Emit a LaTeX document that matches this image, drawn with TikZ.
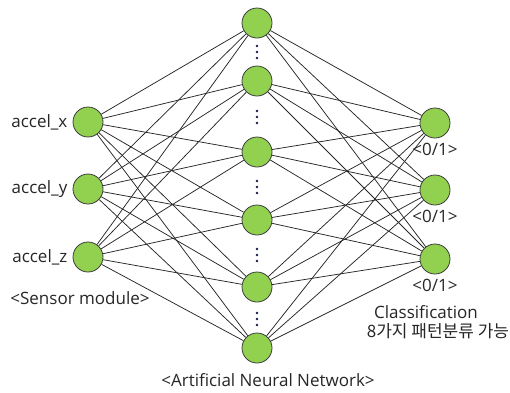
\documentclass[tikz,border=0pt]{standalone}
\usepackage{fontspec}
\setmainfont{Open Sans}
\newfontfamily\korfont{Noto Sans CJK KR}
\usetikzlibrary{positioning}
\definecolor{nodegreen}{RGB}{146,208,80}
\definecolor{rimgray}{RGB}{60,60,60}
\definecolor{dotblue}{RGB}{20,30,70}
\tikzset{
  neuron/.style={circle, draw=rimgray, fill=nodegreen, line width=0.8pt, minimum size=30pt, inner sep=0pt},
  link/.style={draw=black!85, line width=0.75pt},
  lbl/.style={font=\fontsize{17}{19}\selectfont, text=black!85, inner sep=1pt}
}

\begin{document}
\begin{tikzpicture}[x=1pt, y=-1pt]
    \useasboundingbox (0,0) rectangle (510,392);
    % input layer
    \node[neuron] (in1) at (88,122) {};
    \node[neuron] (in2) at (88,189) {};
    \node[neuron] (in3) at (88,257) {};
    % hidden layer
    \node[neuron] (hid1) at (257,23) {};
    \node[neuron] (hid2) at (257,81) {};
    \node[neuron] (hid3) at (257,152) {};
    \node[neuron] (hid4) at (257,220) {};
    \node[neuron] (hid5) at (257,287) {};
    \node[neuron] (hid6) at (257,348) {};
    % output layer
    \node[neuron] (out1) at (435,123) {};
    \node[neuron] (out2) at (435,190) {};
    \node[neuron] (out3) at (435,259) {};
    % dots between hidden nodes
    \foreach \y in {52,117,187,255,319}
        \fill[dotblue] (257,\y-6) circle (1.4) (257,\y) circle (1.4) (257,\y+6) circle (1.4);
    % labels
    \node[lbl, left=4pt of in1] (ax) {accel\_x};
    \node[lbl, left=4pt of in2] (ay) {accel\_y};
    \node[lbl, left=4pt of in3] (az) {accel\_z};
    \node[lbl] (sensor) at (80,298) {<Sensor module>};
    \node[lbl, below=4pt of out1] (o1) {<0/1>};
    \node[lbl, below=4pt of out2] (o2) {<0/1>};
    \node[lbl, below=4pt of out3] (o3) {<0/1>};
    \node[lbl] (cls) at (426,312) {Classification};
    \node[lbl] (kor) at (438,331) {\korfont 8가지 패턴분류 가능};
    \node[lbl] (ann) at (268,380) {<Artificial Neural Network>};
    % input to hidden
    \draw[link] (in1) -- (hid1) (in1) -- (hid2) (in1) -- (hid3) (in1) -- (hid4) (in1) -- (hid5) (in1) -- (hid6);
    \draw[link] (in2) -- (hid1) (in2) -- (hid2) (in2) -- (hid3) (in2) -- (hid4) (in2) -- (hid5) (in2) -- (hid6);
    \draw[link] (in3) -- (hid1) (in3) -- (hid2) (in3) -- (hid3) (in3) -- (hid4) (in3) -- (hid5) (in3) -- (hid6);
    % hidden to output
    \draw[link] (hid1) -- (out1) (hid1) -- (out2) (hid1) -- (out3);
    \draw[link] (hid2) -- (out1) (hid2) -- (out2) (hid2) -- (out3);
    \draw[link] (hid3) -- (out1) (hid3) -- (out2) (hid3) -- (out3);
    \draw[link] (hid4) -- (out1) (hid4) -- (out2) (hid4) -- (out3);
    \draw[link] (hid5) -- (out1) (hid5) -- (out2) (hid5) -- (out3);
    \draw[link] (hid6) -- (out1) (hid6) -- (out2) (hid6) -- (out3);
\end{tikzpicture}
\end{document}
